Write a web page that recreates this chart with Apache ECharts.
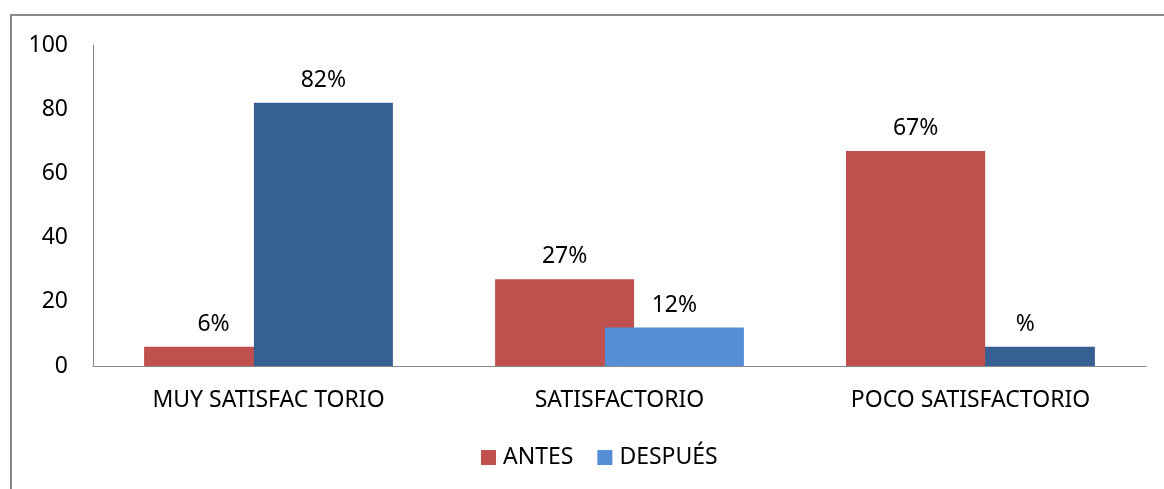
<!DOCTYPE html>
<html>
<head>
<meta charset="utf-8">
<script src="https://cdn.jsdelivr.net/npm/echarts@6/dist/echarts.min.js"></script>
<style>
html,body{margin:0;padding:0;background:#fff;}
#chart{width:1164px;height:489px;}
</style>
</head>
<body>
<div id="chart"></div>
<script>
const categories = ['MUY SATISFAC TORIO', 'SATISFACTORIO', 'POCO SATISFACTORIO'];
const antes = [6, 27, 67];
const despues = [82, 12, 6];
const antesLabels = ['6%', '27%', '67%'];
const despuesLabels = ['82%', '12%', '%'];
const seriesNames = ['ANTES', 'DESPUÉS'];

const RED = '#C0504D';
const BLUE_LIGHT = '#558ED5';
const BLUE_DARK = '#376092';
const despuesColors = [BLUE_DARK, BLUE_LIGHT, BLUE_DARK];
const FONT = 'Noto Sans';
const FS = 23;

const chart = echarts.init(document.getElementById('chart'), null, {renderer: 'canvas'});

const barCommon = {
  type: 'bar',
  barWidth: 139,
  barGap: '-21%',
  animation: false
};

const labelCommon = {
  show: true,
  position: 'top',
  distance: 11,
  color: '#000',
  fontFamily: FONT,
  fontSize: FS
};

const option = {
  animation: false,
  backgroundColor: '#fff',
  textStyle: {fontFamily: FONT},
  graphic: [{
    type: 'rect',
    shape: {x: 11, y: 15, width: 1300, height: 700},
    style: {fill: null, stroke: '#888888', lineWidth: 2},
    silent: true,
    z: -10
  }],
  grid: {left: 93, right: 18, top: 45, bottom: 123, containLabel: false},
  legend: {
    data: [seriesNames[0], seriesNames[1]],
    left: 481,
    top: 446,
    padding: 0,
    itemWidth: 15,
    itemHeight: 15,
    itemGap: 24,
    icon: 'rect',
    textStyle: {fontFamily: FONT, fontSize: FS, color: '#000', padding: [0, 0, 0, 2]}
  },
  xAxis: [{
    type: 'category',
    data: categories,
    axisLine: {show: true, lineStyle: {color: '#868686', width: 1}},
    axisTick: {show: false},
    axisLabel: {margin: 23, color: '#000', fontFamily: FONT, fontSize: FS, interval: 0},
    splitLine: {show: false}
  }, {
    type: 'category',
    data: categories,
    position: 'bottom',
    show: false
  }],
  yAxis: {
    type: 'value',
    min: 0,
    max: 100,
    interval: 20,
    axisLine: {show: true, lineStyle: {color: '#868686', width: 1}},
    axisTick: {show: false},
    splitLine: {show: false},
    axisLabel: {margin: 25, color: '#000', fontFamily: FONT, fontSize: FS}
  },
  series: [
    Object.assign({}, barCommon, {
      name: seriesNames[0],
      xAxisIndex: 0,
      z: 2,
      itemStyle: {color: RED},
      data: antes,
      label: Object.assign({}, labelCommon, {
        formatter: p => antesLabels[p.dataIndex]
      })
    }),
    Object.assign({}, barCommon, {
      name: seriesNames[1],
      xAxisIndex: 0,
      z: 3,
      itemStyle: {color: BLUE_LIGHT},
      data: despues.map((v, i) => ({value: v, itemStyle: {color: despuesColors[i]}})),
      label: Object.assign({}, labelCommon, {
        formatter: p => despuesLabels[p.dataIndex]
      })
    }),
    // overlay: in the last category the ANTES bar sits in front of the DESPUÉS bar
    Object.assign({}, barCommon, {
      name: seriesNames[0],
      xAxisIndex: 1,
      z: 4,
      itemStyle: {color: RED},
      data: antes.map((v, i) => (i === 2 ? v : '-')),
      label: {show: false}
    }),
    Object.assign({}, barCommon, {
      name: seriesNames[1],
      xAxisIndex: 1,
      z: 1,
      itemStyle: {color: BLUE_LIGHT},
      data: despues.map(() => '-'),
      label: {show: false}
    })
  ]
};

chart.setOption(option);
</script>
</body>
</html>
